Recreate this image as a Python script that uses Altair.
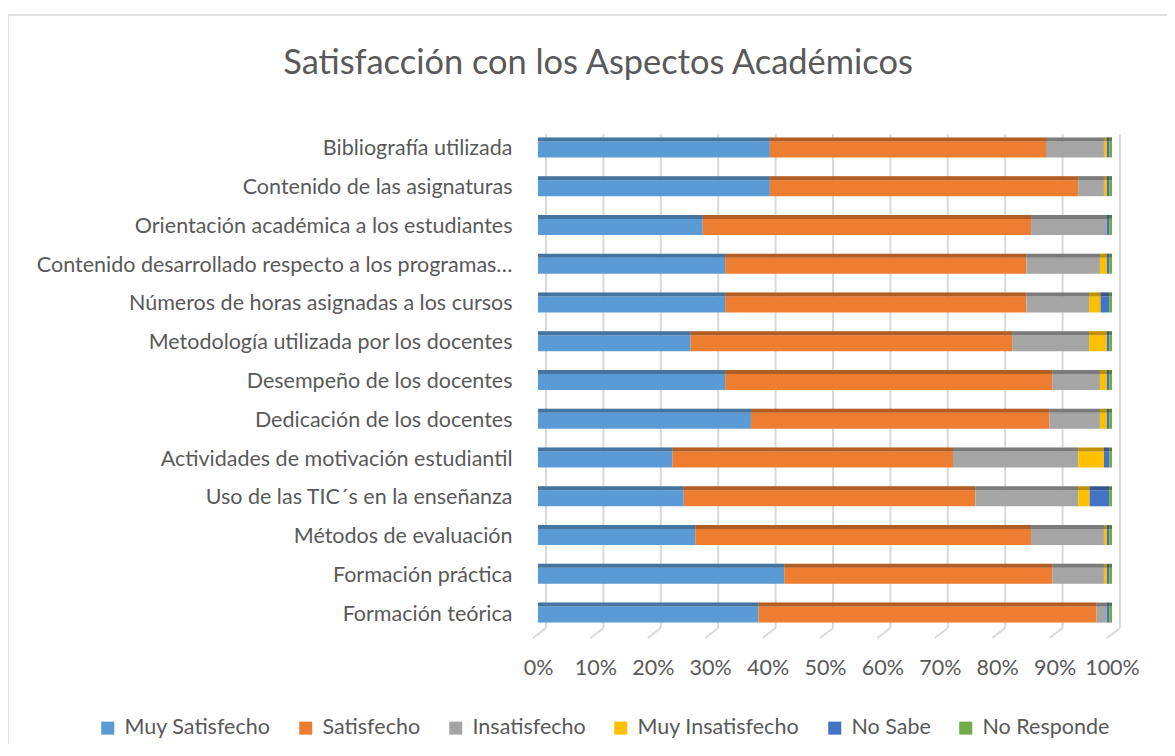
import altair as alt
import pandas as pd

categories = [
    "Bibliografía utilizada",
    "Contenido de las asignaturas",
    "Orientación académica a los estudiantes",
    "Contenido desarrollado respecto a los programas…",
    "Números de horas asignadas a los cursos",
    "Metodología utilizada por los docentes",
    "Desempeño de los docentes",
    "Dedicación de los docentes",
    "Actividades de motivación estudiantil",
    "Uso de las TIC´s en la enseñanza",
    "Métodos de evaluación",
    "Formación práctica",
    "Formación teórica",
]
series = ["Muy Satisfecho", "Satisfecho", "Insatisfecho", "Muy Insatisfecho", "No Sabe", "No Responde"]
colors = ["#5B9BD5", "#ED7D31", "#A5A5A5", "#FFC000", "#4472C4", "#70AD47"]

muy_satisfecho = [40.4, 40.4, 28.7, 32.6, 32.6, 26.6, 32.6, 37.1, 23.4, 25.4, 27.4, 42.9, 38.4]
satisfecho = [48.1, 53.7, 57.2, 52.5, 52.5, 56.0, 57.0, 52.0, 48.9, 50.8, 58.5, 46.7, 58.9]
insatisfecho = [10.1, 4.5, 13.2, 12.8, 10.9, 13.4, 8.3, 8.8, 21.8, 17.9, 12.7, 9.0, 1.8]
muy_insatisfecho = [0.5, 0.5, 0.0, 1.2, 2.0, 3.1, 1.2, 1.2, 4.5, 2.0, 0.5, 0.5, 0.0]
no_sabe = [0.4, 0.4, 0.4, 0.4, 1.5, 0.4, 0.4, 0.4, 0.9, 3.4, 0.4, 0.4, 0.4]
no_responde = [0.5, 0.5, 0.5, 0.5, 0.5, 0.5, 0.5, 0.5, 0.5, 0.5, 0.5, 0.5, 0.5]

grid_ticks = [0.0, 0.1, 0.2, 0.3, 0.4, 0.5, 0.6, 0.7, 0.8, 0.9, 1.0]

all_series = [muy_satisfecho, satisfecho, insatisfecho, muy_insatisfecho, no_sabe, no_responde]
rows = []
for si, (name, vals) in enumerate(zip(series, all_series)):
    for cat, v in zip(categories, vals):
        rows.append({"Aspecto": cat, "Nivel": name, "orden": si, "valor": v})
df = pd.DataFrame(rows)
grid_df = pd.DataFrame({"tick": grid_ticks})

FONT = "Lato"
TXT = "#595959"
FS = 21.5

x_enc = alt.X(
    "valor:Q",
    stack="normalize",
    scale=alt.Scale(domain=[0, 1]),
    axis=alt.Axis(
        format=".0%",
        values=grid_ticks,
        grid=False,
        domain=False,
        ticks=False,
        labelFontSize=FS,
        labelFont=FONT,
        labelColor=TXT,
        labelPadding=23,
        labelOverlap=False,
        labelFlush=False,
        labelBound=False,
        title=None,
    ),
)
y_enc = alt.Y(
    "Aspecto:N",
    sort=categories,
    scale=alt.Scale(paddingInner=0.55, paddingOuter=0.275),
    axis=alt.Axis(
        domain=False,
        ticks=False,
        labelFontSize=FS,
        labelFont=FONT,
        labelColor=TXT,
        labelPadding=26,
        labelLimit=700,
        title=None,
    ),
)

color_enc = alt.Color(
    "Nivel:N",
    sort=series,
    scale=alt.Scale(domain=series, range=colors),
    legend=alt.Legend(
        title=None,
        orient="none",
        direction="horizontal",
        columns=6,
        legendX=-441,
        legendY=587,
        symbolType="square",
        symbolSize=170,
        symbolStrokeWidth=0,
        labelFontSize=FS,
        labelFont=FONT,
        labelColor=TXT,
        labelOffset=6,
        labelLimit=400,
        columnPadding=24,
    ),
)

bars = alt.Chart(df).mark_bar(size=16).encode(
    x=x_enc,
    y=y_enc,
    color=color_enc,
    order=alt.Order("orden:Q"),
)

top_color = alt.Chart(df).mark_bar(size=4, yOffset=-10).encode(
    x=alt.X("valor:Q", stack="normalize"),
    y=alt.Y("Aspecto:N", sort=categories),
    color=alt.Color("Nivel:N", sort=series, scale=alt.Scale(domain=series, range=colors)),
    order=alt.Order("orden:Q"),
)

top_shade = alt.Chart(df).mark_bar(size=4, yOffset=-10, color="black", opacity=0.25).encode(
    x=alt.X("valor:Q", stack="normalize"),
    y=alt.Y("Aspecto:N", sort=categories),
    detail="Nivel:N",
    order=alt.Order("orden:Q"),
)

grid = alt.Chart(grid_df).mark_rule(color="#D9D9D9", strokeWidth=2, xOffset=8).encode(
    x=alt.X("tick:Q"),
    y=alt.value(4),
    y2=alt.value(498),
)

diag = alt.Chart(grid_df).mark_rule(color="#D9D9D9", strokeWidth=2, xOffset=8, x2Offset=-5).encode(
    x=alt.X("tick:Q"),
    x2=alt.X2("tick"),
    y=alt.value(498),
    y2=alt.value(508),
)

border = alt.Chart(pd.DataFrame({"b": [0]})).mark_rect(
    fill=None, stroke="#D9D9D9", strokeWidth=1.5
).encode(
    x=alt.value(-530),
    x2=alt.value(700),
    y=alt.value(-115),
    y2=alt.value(700),
)

chart = (
    alt.layer(border, grid, diag, bars, top_color, top_shade)
    .properties(
        width=574,
        height=504,
        autosize=alt.AutoSizeParams(type="none"),
        padding={"left": 530, "top": 122, "right": 55, "bottom": 110},
        title=alt.TitleParams(
            "Satisfacción con los Aspectos Académicos",
            font=FONT,
            fontSize=34.4,
            fontWeight=400,
            color=TXT,
            anchor="middle",
            frame="group",
            baseline="alphabetic",
            dx=-227,
            offset=-94,
        ),
    )
    .configure_view(stroke=None)
)

chart.save("out.html", embed_options={"renderer": "svg", "actions": False})
